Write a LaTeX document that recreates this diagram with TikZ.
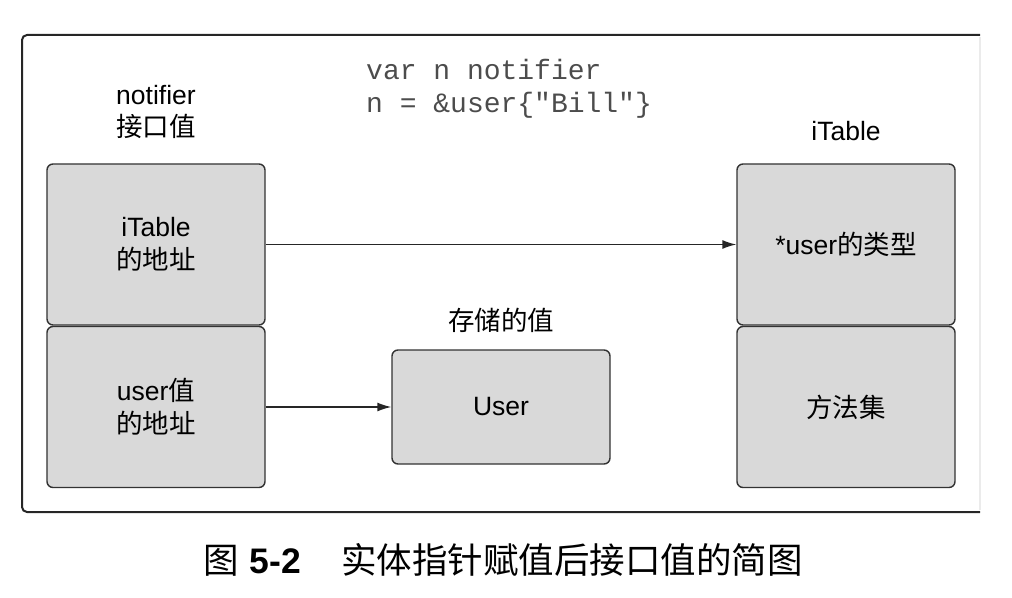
\documentclass[tikz,border=0pt]{standalone}
\usepackage{fontspec}
\setmainfont{Liberation Sans}
\setmonofont{Liberation Mono}
\newfontfamily\cjk{Noto Sans CJK SC}
\usetikzlibrary{arrows.meta}

\begin{document}
\begin{tikzpicture}[x=1bp,y=-1bp,
  cell/.style={draw=black!80, fill=black!15, line width=1.4bp, rounded corners=6bp, minimum width=218bp, minimum height=161bp, align=center, inner sep=0pt, font=\fontsize{26.5bp}{33bp}\selectfont},
  lbl/.style={align=center, inner sep=0pt, font=\fontsize{26.5bp}{32bp}\selectfont},
  link/.style={line width=1.4bp, black!85, -{Latex[length=14bp,width=9bp]}}]
\useasboundingbox (0,0) rectangle (1012,598);
\draw[line width=2bp, rounded corners=5bp, black!85] (980,35) -- (22,35) -- (22,512) -- (980,512);
\draw[line width=2bp, black!8] (980,37) -- (980,510);
\node[anchor=west, align=left, inner sep=0pt, text=black!70, font=\ttfamily\fontsize{28bp}{33bp}\selectfont] (code) at (366,89) {var n notifier\\n = \&user\{"Bill"\}};
\node[lbl] (ifacelbl) at (156,112) {notifier\\{\cjk 接口值}};
\node[cell] (itabaddr) at (156,244.5) {iTable\\{\cjk 的地址}};
\node[cell] (useraddr) at (156,407) {user{\cjk 值}\\{\cjk 的地址}};
\node[lbl] (itablbl) at (846,131) {iTable};
\node[cell] (usertype) at (846,244.5) {*user{\cjk 的类型}};
\node[cell] (methods) at (846,407) {{\cjk 方法集}};
\node[lbl] (storedlbl) at (501,320) {{\cjk 存储的值}};
\node[cell, minimum height=114bp] (uservalue) at (501,407) {User};
\draw[link] (itabaddr.east) -- (usertype.west);
\draw[link] (useraddr.east) -- (uservalue.west);
\node (caption) at (503,560) {\fontsize{35.5bp}{40bp}\selectfont{\cjk 图}\hspace{11bp}\textbf{5-2}\hspace{40bp}{\cjk 实体指针赋值后接口值的简图}};
\end{tikzpicture}
\end{document}
